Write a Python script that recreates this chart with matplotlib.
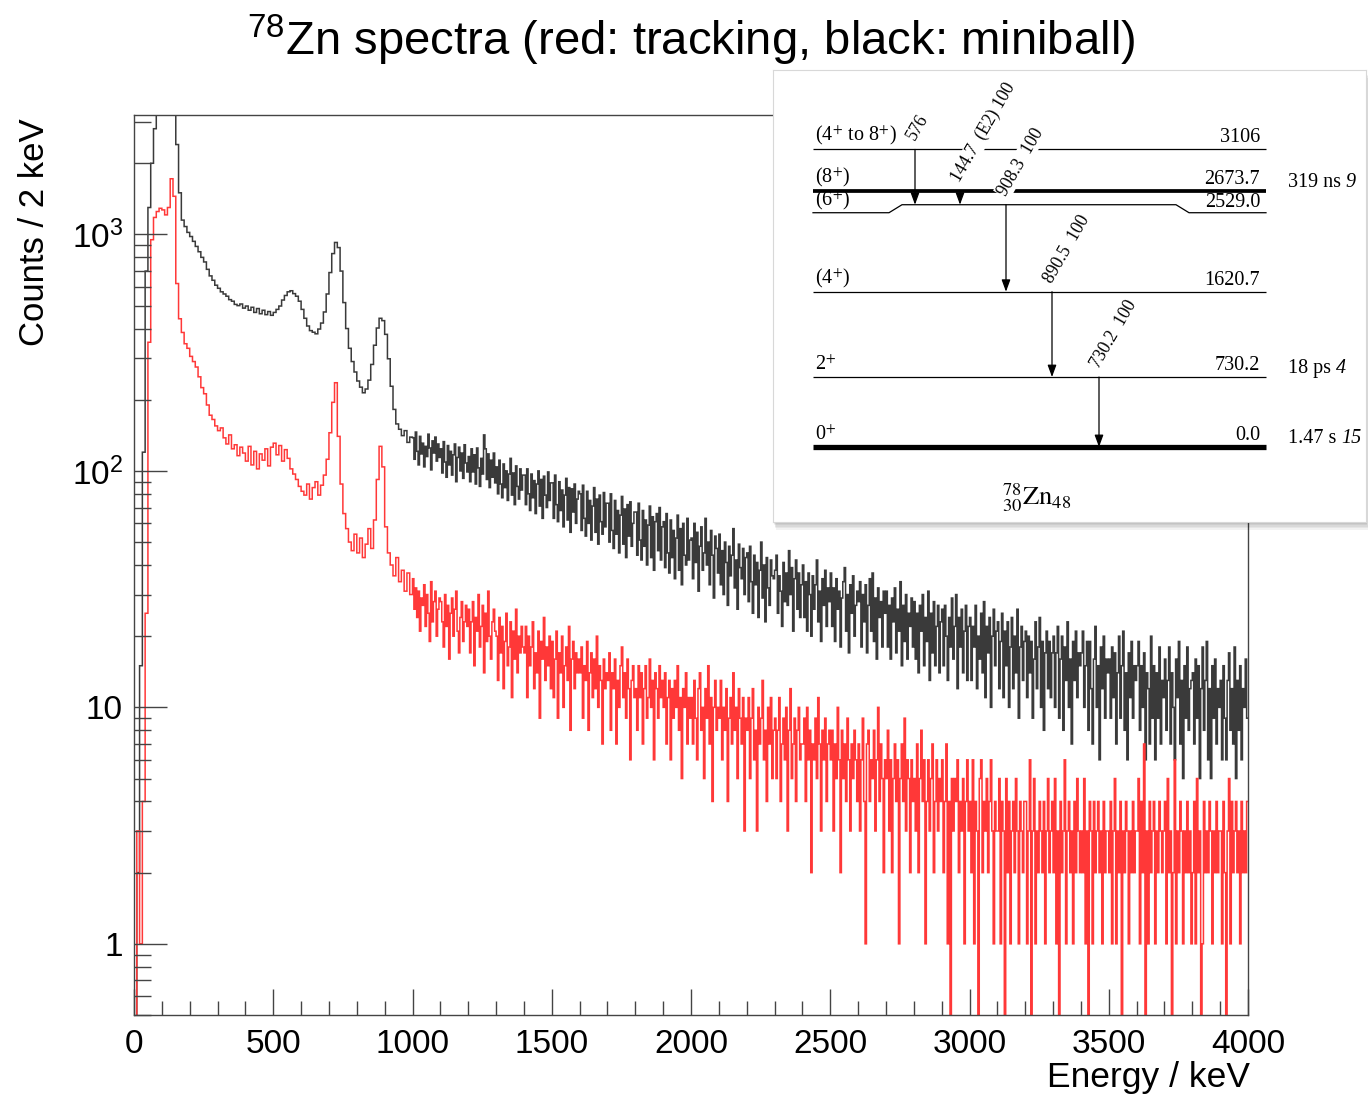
import numpy as np
import matplotlib
matplotlib.use('Agg')
import matplotlib.pyplot as plt
from matplotlib.patches import Rectangle
from matplotlib.ticker import MultipleLocator, LogLocator, NullFormatter

plt.rcParams['font.family'] = ['Liberation Sans', 'DejaVu Sans']
serif = ['Liberation Serif', 'DejaVu Serif']

# values are counts / 2 keV
# 0-1000 keV in 10 keV steps, 1000-4000 keV in 5 keV steps
miniball_low = [
    0, 2, 15, 120, 700, 1300, 2000, 2800, 3600, 4300,
    4800, 5000, 4900, 4600, 4000, 2400, 1500, 1150, 1080, 1020,
    980, 935, 890, 845, 800, 765, 712, 668, 640, 610,
    592, 572, 560, 548, 530, 522, 506, 500, 508, 488,
    498, 478, 492, 468, 486, 462, 478, 458, 472, 455,
    468, 482, 498, 528, 552, 572, 578, 562, 548, 522,
    482, 442, 410, 392, 386, 380, 398, 422, 470, 560,
    690, 830, 925, 880, 700, 515, 400, 330, 290, 262,
    240, 226, 214, 222, 242, 282, 340, 402, 442, 432,
    378, 298, 228, 182, 158, 150, 141, 148, 132, 139,
]
miniball_high = [
    138, 112, 146, 121, 106, 140, 118, 131, 104, 127, 115, 143, 125, 101, 134, 119, 139, 110, 130, 114,
    124, 98, 133, 109, 94, 128, 106, 121, 96, 117, 130, 90, 114, 126, 100, 119, 93, 129, 108, 99,
    115, 90, 124, 99, 117, 88, 125, 103, 86, 113, 97, 142, 124, 92, 118, 85, 111, 94, 119, 89,
    104, 80, 111, 88, 77, 107, 85, 100, 75, 97, 113, 79, 98, 72, 105, 86, 76, 102, 83, 96,
    96, 72, 102, 80, 68, 97, 77, 91, 66, 88, 100, 71, 92, 63, 95, 79, 70, 99, 75, 89,
    89, 63, 96, 72, 61, 90, 68, 83, 58, 79, 93, 62, 85, 55, 84, 67, 88, 60, 76, 82,
    80, 56, 87, 63, 53, 82, 60, 75, 51, 71, 85, 55, 76, 49, 79, 61, 54, 81, 58, 73,
    73, 50, 80, 56, 47, 75, 54, 68, 45, 65, 78, 49, 69, 43, 72, 53, 74, 48, 60, 67,
    67, 44, 73, 51, 42, 68, 48, 62, 40, 59, 71, 43, 64, 38, 61, 66, 46, 70, 42, 58,
    61, 39, 66, 45, 37, 62, 43, 56, 35, 52, 65, 38, 57, 33, 60, 44, 40, 63, 42, 51,
    52, 35, 60, 41, 55, 31, 48, 58, 38, 45, 63, 40, 50, 33, 56, 44, 29, 53, 47, 37,
    54, 33, 46, 30, 50, 41, 27, 48, 36, 44, 57, 32, 42, 26, 49, 39, 35, 47, 30, 43,
    45, 28, 48, 34, 25, 44, 33, 41, 24, 38, 50, 29, 40, 23, 43, 32, 27, 42, 36, 35,
    38, 44, 25, 36, 31, 22, 41, 28, 37, 27, 46, 30, 39, 21, 35, 42, 26, 37, 24, 33,
    40, 24, 34, 21, 37, 30, 20, 36, 26, 33, 42, 23, 31, 19, 35, 27, 38, 22, 32, 28,
    37, 22, 32, 19, 35, 26, 31, 18, 29, 34, 39, 21, 30, 17, 33, 25, 36, 20, 27, 31,
    28, 34, 18, 30, 23, 33, 17, 27, 35, 21, 37, 19, 29, 16, 32, 24, 28, 18, 31, 25,
    31, 18, 27, 16, 29, 23, 32, 17, 26, 21, 34, 15, 27, 19, 30, 16, 25, 22, 29, 18,
    28, 16, 25, 14, 27, 21, 30, 15, 24, 19, 31, 13, 25, 17, 28, 15, 22, 27, 14, 23,
    26, 15, 27, 20, 13, 24, 18, 29, 16, 22, 30, 12, 24, 18, 26, 14, 21, 27, 13, 22,
    24, 13, 22, 18, 27, 12, 20, 16, 25, 14, 28, 11, 22, 17, 24, 10, 20, 26, 15, 21,
    23, 12, 19, 25, 11, 21, 15, 23, 10, 18, 24, 12, 20, 14, 26, 9, 18, 22, 13, 19,
    21, 11, 20, 14, 19, 9, 16, 23, 12, 18, 24, 10, 19, 8, 17, 21, 12, 19, 11, 17,
    20, 10, 17, 22, 9, 16, 20, 8, 18, 13, 23, 10, 16, 7, 19, 13, 21, 11, 17, 15,
    17, 21, 10, 15, 19, 8, 19, 12, 7, 16, 22, 10, 15, 6, 18, 12, 20, 9, 16, 14,
    16, 9, 18, 11, 17, 7, 14, 20, 9, 15, 21, 8, 14, 6, 17, 11, 19, 9, 15, 13,
    15, 19, 8, 15, 10, 17, 6, 14, 12, 7, 20, 9, 15, 6, 14, 9, 18, 7, 13, 11,
    16, 8, 13, 18, 7, 14, 10, 6, 16, 11, 19, 7, 13, 5, 15, 9, 18, 8, 12, 13,
    14, 7, 16, 9, 15, 5, 12, 18, 8, 13, 19, 6, 12, 5, 15, 9, 16, 7, 12, 10,
    13, 6, 15, 9, 6, 13, 17, 8, 12, 7, 18, 5, 13, 8, 15, 6, 12, 10, 16, 9,
]

tracking_low = [
    0, 3, 1, 4, 25, 350, 950, 1180, 1250, 1290,
    1270, 1210, 1300, 1720, 1450, 620, 440, 385, 345, 330,
    305, 290, 275, 250, 225, 212, 190, 172, 165, 155,
    148, 152, 138, 130, 142, 124, 129, 116, 126, 119,
    110, 127, 106, 121, 102, 118, 111, 124, 105, 126,
    131, 117, 128, 110, 123, 113, 102, 97, 92, 86,
    82, 79, 88, 76, 85, 90, 79, 87, 96, 112,
    145, 195, 236, 140, 88, 66, 57, 50, 46, 54,
    45, 52, 43, 49, 57, 47, 62, 92, 127, 104,
    58, 45, 40, 36, 43, 34, 38, 31, 37, 30,
]
tracking_high = [
    35, 26, 32, 24, 31, 21, 29, 27, 33, 22, 30, 25, 19, 34, 23, 28, 31, 20, 26, 29,
    28, 23, 18, 30, 22, 27, 16, 25, 29, 20, 26, 31, 21, 17, 24, 28, 19, 23, 27, 22,
    26, 17, 23, 28, 15, 24, 21, 30, 18, 22, 27, 14, 25, 19, 31, 20, 16, 23, 26, 21,
    20, 13, 24, 17, 22, 12, 19, 25, 15, 18, 23, 11, 21, 16, 26, 14, 20, 17, 22, 18,
    17, 22, 11, 20, 15, 18, 23, 12, 17, 14, 21, 9, 19, 16, 24, 13, 18, 15, 20, 12,
    19, 11, 16, 21, 9, 17, 14, 20, 10, 15, 18, 13, 22, 8, 16, 19, 12, 17, 14, 16,
    14, 18, 9, 15, 13, 19, 8, 14, 17, 11, 16, 12, 20, 10, 15, 13, 7, 16, 12, 14,
    13, 17, 8, 14, 12, 16, 7, 13, 10, 15, 18, 11, 14, 9, 16, 12, 6, 13, 15, 11,
    12, 8, 15, 11, 14, 7, 12, 15, 9, 11, 16, 10, 13, 6, 14, 12, 9, 15, 11, 13,
    10, 14, 7, 11, 13, 6, 12, 9, 13, 10, 15, 8, 11, 5, 12, 10, 14, 7, 11, 9,
    11, 7, 13, 9, 6, 12, 14, 8, 10, 5, 12, 9, 15, 7, 11, 4, 10, 13, 8, 10,
    9, 13, 6, 10, 8, 12, 4, 9, 11, 7, 14, 8, 10, 5, 12, 9, 7, 11, 3, 9,
    8, 11, 5, 9, 12, 6, 8, 3, 10, 7, 9, 13, 6, 8, 4, 10, 7, 11, 5, 8,
    9, 5, 8, 11, 4, 7, 9, 6, 10, 3, 8, 12, 5, 7, 9, 4, 8, 10, 6, 7,
    7, 9, 4, 10, 6, 8, 2, 7, 6, 9, 5, 11, 7, 3, 8, 6, 9, 4, 7, 8,
    6, 8, 3, 7, 5, 10, 6, 2, 8, 5, 7, 4, 9, 6, 3, 7, 5, 8, 6, 4,
    7, 3, 6, 9, 4, 1, 7, 8, 4, 6, 5, 8, 3, 6, 10, 4, 7, 5, 2, 6,
    5, 8, 3, 6, 2, 5, 7, 4, 6, 1, 5, 7, 4, 9, 3, 6, 5, 2, 6, 4,
    5, 3, 7, 2, 5, 8, 4, 6, 1, 4, 6, 3, 5, 7, 2, 4, 6, 3, 5, 4,
    6, 2, 4, 7, 1, 4, 0, 5, 3, 5, 4, 6, 2, 4, 3, 5, 1, 4, 6, 3,
    4, 2, 6, 1, 4, 3, 0, 5, 6, 2, 4, 3, 5, 2, 4, 6, 3, 1, 4, 3,
    3, 5, 1, 4, 3, 0, 5, 2, 4, 1, 3, 4, 2, 5, 3, 1, 4, 3, 2, 4,
    4, 1, 3, 6, 0, 3, 5, 1, 3, 2, 4, 3, 2, 4, 1, 3, 5, 2, 3, 4,
    2, 5, 1, 3, 0, 4, 2, 3, 6, 1, 3, 4, 2, 3, 1, 4, 2, 5, 3, 2,
    3, 2, 5, 1, 3, 0, 4, 3, 1, 4, 2, 3, 4, 2, 3, 1, 4, 2, 3, 3,
    2, 4, 1, 3, 5, 1, 3, 2, 4, 0, 3, 2, 4, 3, 1, 3, 2, 4, 2, 3,
    3, 5, 1, 4, 2, 7, 0, 3, 1, 4, 2, 3, 4, 1, 3, 2, 4, 3, 2, 3,
    4, 1, 5, 2, 3, 0, 2, 6, 1, 3, 2, 4, 3, 1, 3, 2, 4, 2, 3, 1,
    2, 4, 1, 5, 2, 3, 0, 1, 4, 2, 3, 2, 4, 3, 1, 3, 2, 4, 2, 3,
    3, 1, 4, 2, 0, 3, 5, 1, 4, 2, 3, 4, 2, 3, 1, 4, 2, 3, 2, 4,
]

# level scheme of 78Zn (inset)
level_energies = [0.0, 730.2, 1620.7, 2529.0, 2673.7, 3106.0]
level_text = ['0.0', '730.2', '1620.7', '2529.0', '2673.7', '3106']
level_spins = ['0$^{+}$', '2$^{+}$', '(4$^{+}$)', '(6$^{+}$)', '(8$^{+}$)',
               '(4$^{+}$ to 8$^{+}$)']
level_halflives = ['1.47 s', '18 ps', '', '', '319 ns', '']
level_halflife_err = ['15', '4', '', '', '9', '']
level_thick = [True, False, False, False, True, False]
gamma_from = [3106.0, 2673.7, 2529.0, 1620.7, 730.2]
gamma_to = [2529.0, 2529.0, 1620.7, 730.2, 0.0]
gamma_labels = ['576', '144.7  (E2) 100', '908.3  100', '890.5  100', '730.2  100']


def edges_for(low, high):
    e_low = 10.0 * np.arange(len(low))
    e_high = 10.0 * len(low) + 5.0 * np.arange(len(high) + 1)
    return np.concatenate([e_low, e_high])


W, H = 1368, 1097
fig = plt.figure(figsize=(W / 100, H / 100), dpi=100)
ax = fig.add_axes([134 / W, 82 / H, 1114 / W, 900 / H])

mb = np.array(miniball_low + miniball_high, dtype=float)
tr = np.array(tracking_low + tracking_high, dtype=float)
ax.stairs(np.where(mb > 0, mb, 1e-3), edges_for(miniball_low, miniball_high),
          baseline=None, color='#3a3a3a', lw=1.1)
ax.stairs(np.where(tr > 0, tr, 1e-3), edges_for(tracking_low, tracking_high),
          baseline=None, color='#ff3838', lw=1.1)

ax.set_yscale('log')
ax.set_xlim(0, 4000)
ax.set_ylim(0.5, 3200)

ax.xaxis.set_major_locator(MultipleLocator(500))
ax.xaxis.set_minor_locator(MultipleLocator(100))
ax.set_yticks([1, 10, 100, 1000])
ax.set_yticklabels(['1', '10', r'$\mathregular{10^{2}}$', r'$\mathregular{10^{3}}$'])
ax.yaxis.set_minor_locator(LogLocator(base=10, subs=np.arange(2, 10), numticks=20))
ax.yaxis.set_minor_formatter(NullFormatter())

ax.tick_params(axis='x', which='major', direction='in', length=19, width=1,
               color='#444444', labelsize=24, pad=10)
ax.tick_params(axis='x', which='minor', direction='in', length=10, width=1,
               color='#444444')
ax.tick_params(axis='y', which='major', direction='in', length=24, width=1,
               color='#444444', labelsize=24, pad=8)
ax.tick_params(axis='y', which='minor', direction='in', length=12, width=1,
               color='#444444')
for s in ax.spines.values():
    s.set_color('#444444')
    s.set_linewidth(1)

fig.text(35 / W, 1 - 118 / H, 'Counts / 2 keV', rotation=90, ha='center', va='top',
         fontsize=25)
fig.text(1250 / W, 1 - 1078 / H, 'Energy / keV', ha='right', va='center',
         fontsize=25.5)
fig.text(691 / W, 1 - 40 / H, r'$^{\mathregular{78}}$Zn spectra (red: tracking, black: miniball)',
         ha='center', va='center', fontsize=34)

# inset box with drop shadow
x0, y0, w, h = 773, 70, 593, 452
for i in range(1, 6):
    fig.add_artist(Rectangle(((x0 + 0.5 * i) / W, 1 - (y0 + h + 1.6 * i) / H), w / W, h / H,
                             transform=fig.transFigure, facecolor='black',
                             edgecolor='none', alpha=0.05, zorder=1))
ins = fig.add_axes([x0 / W, 1 - (y0 + h) / H, w / W, h / H], zorder=3)
ins.set_facecolor('white')
ins.set_xticks([])
ins.set_yticks([])
for s in ins.spines.values():
    s.set_color('#d8d8d8')
    s.set_linewidth(0.8)

kpx = 1 / 0.0958  # keV per pixel in the scheme
ins.set_xlim(0, w)
ins.set_ylim((447 - (y0 + h)) * kpx, (447 - y0) * kpx)

lx0, lx1 = 40, 493
for E, txt, spin, hl, err, thick in zip(level_energies, level_text, level_spins,
                                       level_halflives, level_halflife_err, level_thick):
    lw = 0.9 if not thick else (3.8 if E == 0 else 2.7)
    if E == 2529.0:
        edge = E - 8 * kpx
        lift = 0.3 * kpx
        ins.plot([lx0, 116, 129, 403, 416, lx1], [edge, edge, E, E, edge, edge],
                 color='black', lw=lw, zorder=2)
    else:
        edge = E
        lift = 2 * kpx
        ins.plot([lx0, lx1], [E, E], color='black', lw=lw, zorder=2,
                 solid_capstyle='butt')
    ins.text(lx0 + 2, edge + lift, spin, ha='left', va='bottom', fontsize=14.5,
             family=serif, math_fontfamily='stix')
    ins.text(lx1 - 6, edge + lift, txt, ha='right', va='bottom', fontsize=14.5,
             family=serif)
    if hl:
        t = ins.text(515, E - 1 * kpx, hl, ha='left', va='bottom', fontsize=14.5,
                     family=serif)
        ins.annotate(err, xy=(1, 0), xycoords=t, xytext=(3.5, 0),
                     textcoords='offset points', ha='left', va='bottom',
                     fontsize=14.5, family=serif, fontstyle='italic')

gx = [142, 187, 233, 279, 326]
for x, e1, e2, lab in zip(gx, gamma_from, gamma_to, gamma_labels):
    ins.annotate('', xy=(x, e2), xytext=(x, e1),
                 arrowprops=dict(arrowstyle='-|>,head_length=0.6,head_width=0.22',
                                 color='black', lw=0.9, shrinkA=0, shrinkB=0,
                                 mutation_scale=12), zorder=2.5)
    ins.text(x + 3, e1 + 6 * kpx, lab, rotation=60, rotation_mode='anchor',
             ha='left', va='bottom', fontsize=12.8, family=serif, zorder=4,
             bbox=dict(facecolor='white', edgecolor='none', pad=0.6))

ins.text(264, (447 - 498) * kpx, r'$^{78}_{30}\mathrm{Zn}_{48}$', ha='center',
         va='center', fontsize=19, math_fontfamily='stix')

fig.savefig('out.png', dpi=100)
